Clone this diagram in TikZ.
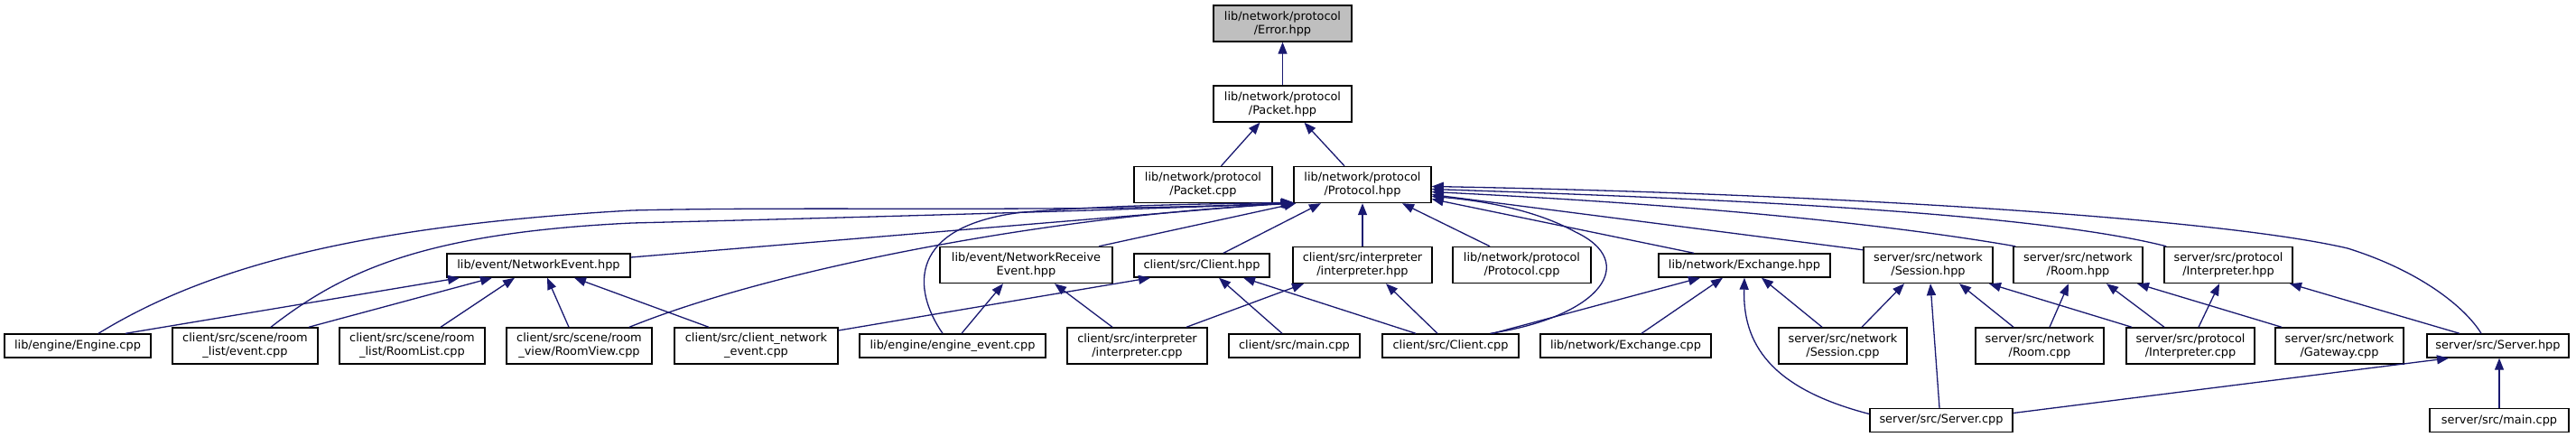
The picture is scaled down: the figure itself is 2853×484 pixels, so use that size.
\documentclass[tikz,border=0pt]{standalone}
\usepackage{fontspec}
\setmainfont{DejaVu Sans}
\usetikzlibrary{arrows.meta}
\definecolor{edgeblue}{HTML}{191970}
\definecolor{rootgray}{HTML}{BFBFBF}
\begin{document}
\begin{tikzpicture}[x=1pt,y=-1pt,
  box/.style={draw=black, line width=1.4pt, fill=white, inner sep=0pt, align=center,
    font=\fontsize{12.9}{15}\selectfont, minimum height=40pt},
  one/.style={minimum height=26pt},
  edge/.style={draw=edgeblue, line width=1.3pt, -{Triangle[length=13pt,width=10pt]}}]
\useasboundingbox (0,0) rectangle (2853,484);
% rank 0-2
\node[box, fill=rootgray, minimum width=153pt] (err) at (1420.5,26) {lib/network/protocol\\/Error.hpp};
\node[box, minimum width=153pt] (pkh) at (1420.5,115) {lib/network/protocol\\/Packet.hpp};
\node[box, minimum width=153pt] (pkc) at (1332.5,204.5) {lib/network/protocol\\/Packet.cpp};
\node[box, minimum width=152pt] (prh) at (1509,204.5) {lib/network/protocol\\/Protocol.hpp};
% rank 3
\node[box, one, minimum width=203pt] (nev) at (596.5,294) {lib/event/NetworkEvent.hpp};
\node[box, minimum width=191pt] (nre) at (1136.5,293.5) {lib/event/NetworkReceive\\Event.hpp};
\node[box, one, minimum width=150pt] (clh) at (1331,294) {client/src/Client.hpp};
\node[box, minimum width=154pt] (ith) at (1509,293.5) {client/src/interpreter\\/interpreter.hpp};
\node[box, minimum width=153pt] (prc) at (1685.5,293.5) {lib/network/protocol\\/Protocol.cpp};
\node[box, one, minimum width=190pt] (exh) at (1932,294) {lib/network/Exchange.hpp};
\node[box, minimum width=143pt] (ssh) at (2135.5,293.5) {server/src/network\\/Session.hpp};
\node[box, minimum width=143pt] (rmh) at (2301.5,293.5) {server/src/network\\/Room.hpp};
\node[box, minimum width=142pt] (sih) at (2468,293.5) {server/src/protocol\\/Interpreter.hpp};
% rank 4
\node[box, one, minimum width=162pt] (eng) at (86,383) {lib/engine/Engine.cpp};
\node[box, minimum width=161pt] (evc) at (271.5,383) {client/src/scene/room\\\_list/event.cpp};
\node[box, minimum width=161pt] (rlc) at (456.5,383) {client/src/scene/room\\\_list/RoomList.cpp};
\node[box, minimum width=161pt] (rvc) at (641.5,383) {client/src/scene/room\\\_view/RoomView.cpp};
\node[box, minimum width=181pt] (cne) at (837.5,383) {client/src/client\_network\\\_event.cpp};
\node[box, one, minimum width=206pt] (eev) at (1055,383) {lib/engine/engine\_event.cpp};
\node[box, minimum width=155pt] (itc) at (1259.5,383) {client/src/interpreter\\/interpreter.cpp};
\node[box, one, minimum width=145pt] (mnc) at (1433.5,383) {client/src/main.cpp};
\node[box, one, minimum width=151pt] (clc) at (1606.5,383) {client/src/Client.cpp};
\node[box, one, minimum width=189pt] (exc) at (1800.5,383) {lib/network/Exchange.cpp};
\node[box, minimum width=142pt] (ssc) at (2041,383) {server/src/network\\/Session.cpp};
\node[box, minimum width=142pt] (rmc) at (2259,383) {server/src/network\\/Room.cpp};
\node[box, minimum width=142pt] (sic) at (2426,383) {server/src/protocol\\/Interpreter.cpp};
\node[box, minimum width=142pt] (gwc) at (2591,383) {server/src/network\\/Gateway.cpp};
\node[box, one, minimum width=157pt] (svh) at (2766.5,383) {server/src/Server.hpp};
% rank 5
\node[box, one, minimum width=158pt] (svc) at (2150,465.5) {server/src/Server.cpp};
\node[box, one, minimum width=154pt] (smc) at (2768,465.5) {server/src/main.cpp};

% edges top
\draw[edge] (pkh.north) -- (err.south);
\draw[edge] ([xshift=20pt]pkc.north) -- ([xshift=-25pt]pkh.south);
\draw[edge] ([xshift=-20pt]prh.north) -- ([xshift=24pt]pkh.south);
% into Protocol.hpp from the left
\draw[edge] ([yshift=9pt]nev.east) -- ([xshift=-1pt,yshift=1pt]prh.south west);
\draw[edge] ([xshift=23pt]eng.north) .. controls (230,295) and (400,250) .. (700,233) .. controls (900,228) and (1200,236) .. ([yshift=1pt]prh.south west);
\draw[edge] ([xshift=28.5pt]evc.north) .. controls (380,300) and (470,258) .. (700,247) .. controls (900,242) and (1200,234) .. ([xshift=1pt]prh.south west);
\draw[edge] ([xshift=55.5pt]rvc.north) .. controls (850,300) and (1150,240) .. ([xshift=2pt]prh.south west);
\draw[edge] ([xshift=-11pt]eev.north) .. controls (1010,320) and (1005,250) .. (1133,235) .. controls (1250,226) and (1350,226) .. ([yshift=1pt]prh.south west);
\draw[edge] ([xshift=80.5pt]nre.north) -- ([xshift=3pt]prh.south west);
% into Protocol.hpp from below
\draw[edge] ([xshift=24pt]clh.north) -- ([xshift=-46pt]prh.south);
\draw[edge] (ith.north) -- (prh.south);
\draw[edge] ([xshift=-35.5pt]prc.north) -- ([xshift=44pt]prh.south);
% into Protocol.hpp from the right
\draw[edge] ([xshift=44pt]clc.north) .. controls (1775,350) and (1815,290) .. (1745,257) .. controls (1700,232) and (1640,222) .. ([yshift=-13pt]prh.east);
\draw[edge] ([xshift=-56pt]exh.north) -- ([yshift=-16pt]prh.east);
\draw[edge] ([yshift=-4pt]ssh.north west) -- ([yshift=-11pt]prh.east);
\draw[edge] ([xshift=3pt]rmh.north west) .. controls (2100,250) and (1900,228) .. ([yshift=-8pt]prh.east);
\draw[edge] ([xshift=3pt]sih.north west) .. controls (2250,235) and (1900,220) .. ([yshift=-5pt]prh.east);
\draw[edge] ([xshift=-18.5pt]svh.north) .. controls (2730,340) and (2680,300) .. (2600,275) .. controls (2450,240) and (2000,214) .. ([yshift=-2pt]prh.east);
% NetworkEvent.hpp
\draw[edge] ([xshift=53pt]eng.north) -- ([xshift=-87.5pt]nev.south);
\draw[edge] ([xshift=70.5pt]evc.north) -- ([xshift=-51.5pt]nev.south);
\draw[edge] ([xshift=31.5pt]rlc.north) -- ([xshift=-26.5pt]nev.south);
\draw[edge] ([xshift=-11.5pt]rvc.north) -- ([xshift=9.5pt]nev.south);
\draw[edge] ([xshift=-52.5pt]cne.north) -- ([xshift=39.5pt]nev.south);
% NetworkReceiveEvent.hpp
\draw[edge] ([xshift=10pt]eev.north) -- ([xshift=-25.5pt]nre.south);
\draw[edge] ([xshift=-27.5pt]itc.north) -- ([xshift=31.5pt]nre.south);
% Client.hpp
\draw[edge] ([yshift=17pt]cne.east) -- ([xshift=-57pt]clh.south);
\draw[edge] ([xshift=-13.5pt]mnc.north) -- ([xshift=19pt]clh.south);
\draw[edge] ([xshift=-38.5pt]clc.north) -- ([xshift=46pt]clh.south);
% interpreter.hpp
\draw[edge] ([xshift=54.5pt]itc.north) -- ([xshift=-65pt]ith.south);
\draw[edge] ([xshift=-14.5pt]clc.north) -- ([xshift=26pt]ith.south);
% Exchange.hpp
\draw[edge] ([xshift=46.5pt]clc.north) -- ([xshift=-49pt]exh.south);
\draw[edge] ([xshift=17.5pt]exc.north) -- ([xshift=-24pt]exh.south);
\draw[edge] ([xshift=-23pt]ssc.north) -- ([xshift=19pt]exh.south);
\draw[edge] ([yshift=7pt]svc.west) .. controls (1960,430) and (1930,380) .. (exh.south);
% Session.hpp
\draw[edge] ([xshift=21pt]ssc.north) -- ([xshift=-26.5pt]ssh.south);
\draw[edge] ([xshift=-29pt]rmc.north) -- ([xshift=34.5pt]ssh.south);
\draw[edge] ([xshift=-65pt]sic.north) -- ([xshift=67.5pt]ssh.south);
\draw[edge] ([xshift=-2pt]svc.north) -- ([xshift=2.5pt]ssh.south);
% Room.hpp
\draw[edge] ([xshift=11pt]rmc.north) -- ([xshift=-10.5pt]rmh.south);
\draw[edge] ([xshift=-29pt]sic.north) -- ([xshift=31.5pt]rmh.south);
\draw[edge] ([xshift=-64pt]gwc.north) -- ([xshift=65.5pt]rmh.south);
% server Interpreter.hpp
\draw[edge] ([xshift=9pt]sic.north) -- ([xshift=-10pt]sih.south);
\draw[edge] ([xshift=-42.5pt]svh.north) -- ([xshift=68pt]sih.south);
% Server.hpp
\draw[edge] ([yshift=8pt]svc.east) -- ([xshift=-54.5pt]svh.south);
\draw[edge] (smc.north) -- (smc.north |- svh.south);
\end{tikzpicture}
\end{document}
